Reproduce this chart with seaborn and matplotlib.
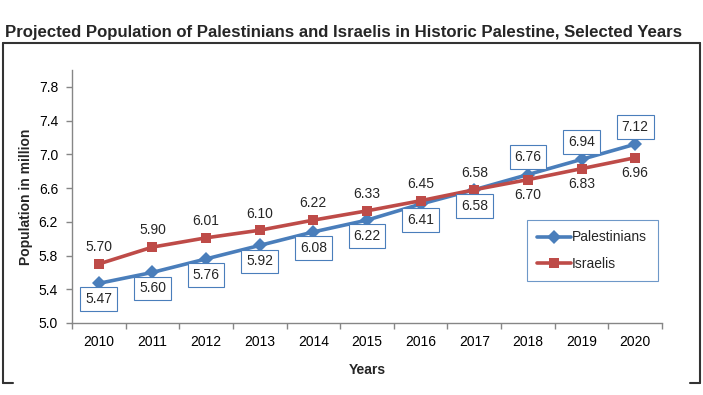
import matplotlib
matplotlib.use("Agg")
import matplotlib.pyplot as plt
import seaborn as sns
import pandas as pd
import numpy as np
from matplotlib.lines import Line2D
from matplotlib.ticker import FixedLocator

years = ["2010", "2011", "2012", "2013", "2014", "2015", "2016", "2017", "2018", "2019", "2020"]
palestinians = [5.47, 5.60, 5.76, 5.92, 6.08, 6.22, 6.41, 6.58, 6.76, 6.94, 7.12]
israelis = [5.70, 5.90, 6.01, 6.10, 6.22, 6.33, 6.45, 6.58, 6.70, 6.83, 6.96]
yticks = [5.0, 5.4, 5.8, 6.2, 6.6, 7.0, 7.4, 7.8]

title = "Projected Population of Palestinians and Israelis in Historic Palestine, Selected Years"
blue = "#4A7EBB"
red = "#BE4B48"
axis_gray = "#868686"
fs = 10

sns.set_theme(style="white")
plt.rcParams["font.family"] = ["Liberation Sans", "DejaVu Sans"]

df = pd.DataFrame({
    "idx": list(range(len(years))) * 2,
    "value": palestinians + israelis,
    "series": ["Palestinians"] * len(years) + ["Israelis"] * len(years),
})

fig = plt.figure(figsize=(7.03, 3.95), dpi=100)
ax = fig.add_axes([72 / 703, 1 - 323 / 395, (662 - 72) / 703, (323 - 70) / 395])

sns.lineplot(data=df, x="idx", y="value", hue="series", style="series",
             palette={"Palestinians": blue, "Israelis": red},
             markers={"Palestinians": "D", "Israelis": "s"},
             dashes=False, linewidth=2.6, markersize=7.5, markeredgewidth=0,
             ax=ax, legend=False)

ax.set_xlim(-0.5, len(years) - 0.5)
ax.set_ylim(5.0, 8.0)
ax.set_yticks(yticks)
ax.set_yticklabels([f"{v:.1f}" for v in yticks])
ax.set_xticks(range(len(years)))
ax.set_xticklabels(years)
ax.xaxis.set_minor_locator(FixedLocator(np.arange(-0.5, len(years), 1.0)))
ax.tick_params(axis="x", which="major", length=0, pad=9, labelsize=fs, colors="#000000")
ax.tick_params(axis="x", which="minor", length=4, width=1, color=axis_gray, direction="out", bottom=True)
ax.tick_params(axis="y", which="major", length=4, width=1, color=axis_gray, direction="out", left=True,
               labelsize=fs, labelcolor="#000000", pad=6)

for side in ["top", "right"]:
    ax.spines[side].set_visible(False)
for side in ["left", "bottom"]:
    ax.spines[side].set_color(axis_gray)
    ax.spines[side].set_linewidth(1)

ax.set_xlabel("Years", fontsize=fs, fontweight="bold", labelpad=10)
ax.set_ylabel("Population in million", fontsize=fs, fontweight="bold", labelpad=4)

# data labels
for i, v in enumerate(palestinians):
    above = i >= 8
    off = 12.5 if above else -11.5
    ax.annotate(f"{v:.2f}", (i, v), xytext=(0, off), textcoords="offset points",
                ha="center", va="center", fontsize=fs,
                bbox=dict(boxstyle="square,pad=0.35", fc="white", ec=blue, lw=0.8))
for i, v in enumerate(israelis):
    above = i <= 7
    off = 12 if above else -11
    ax.annotate(f"{v:.2f}", (i, v), xytext=(0, off), textcoords="offset points",
                ha="center", va="center", fontsize=fs)

handles = [Line2D([], [], color=blue, marker="D", lw=2.6, markersize=7, markeredgewidth=0),
           Line2D([], [], color=red, marker="s", lw=2.6, markersize=7, markeredgewidth=0)]
leg = ax.legend(handles, ["Palestinians", "Israelis"], loc="upper left",
                bbox_to_anchor=((527 - 72) / 590, 1 - (220 - 70) / 253),
                borderaxespad=0,
                frameon=True, fancybox=False, fontsize=fs, handlelength=2.4,
                handletextpad=0.1, labelspacing=0.9, borderpad=0.75)
leg.get_frame().set_edgecolor(blue)
leg.get_frame().set_linewidth(0.8)

fig.text(5 / 703, 1 - 32 / 395, title, fontsize=12.1, fontweight="bold", ha="left", va="center")

# outer frame
fx0, fx1 = 3 / 703, 700 / 703
fy_top = 1 - 43 / 395
fy_bot = 1 - 383 / 395
frame_kw = dict(color="#333333", lw=1.5, transform=fig.transFigure)
fig.add_artist(Line2D([fx0, fx1], [fy_top, fy_top], **frame_kw))
fig.add_artist(Line2D([fx0, fx0], [fy_top, fy_bot], **frame_kw))
fig.add_artist(Line2D([fx1, fx1], [fy_top, fy_bot], **frame_kw))
fig.add_artist(Line2D([fx0, fx0 + 10 / 703], [fy_bot, fy_bot], **frame_kw))
fig.add_artist(Line2D([fx1 - 10 / 703, fx1], [fy_bot, fy_bot], **frame_kw))

fig.savefig("out.png", dpi=100)
